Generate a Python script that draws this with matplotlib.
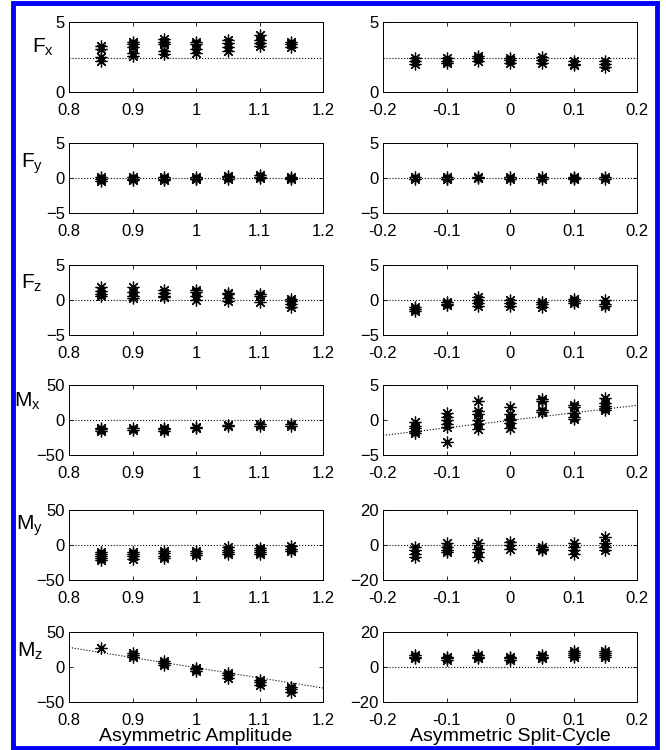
import matplotlib
matplotlib.use("Agg")
import matplotlib.pyplot as plt
from matplotlib.patches import Rectangle

plt.rcParams["font.family"] = ["Liberation Sans", "DejaVu Sans"]
plt.rcParams["mathtext.fontset"] = "custom"
plt.rcParams["mathtext.rm"] = "Liberation Sans"
plt.rcParams["mathtext.it"] = "Liberation Sans:italic"

# x positions of the two parameter sweeps
amp_x = [0.85, 0.9, 0.95, 1.0, 1.05, 1.1, 1.15]
split_x = [-0.15, -0.1, -0.05, 0.0, 0.05, 0.1, 0.15]

fx_amp = [[3.3, 3.1, 2.5, 2.2], [3.6, 3.4, 3.2, 2.8, 2.6], [3.8, 3.6, 3.4, 2.9, 2.7],
          [3.6, 3.4, 3.1, 2.8], [3.7, 3.5, 3.2, 2.9], [4.1, 3.7, 3.5, 3.3], [3.6, 3.4, 3.2]]
fx_split = [[2.4, 2.2, 2.0], [2.4, 2.2, 2.1], [2.6, 2.4, 2.2], [2.4, 2.3, 2.1],
            [2.5, 2.3, 2.1], [2.2, 2.0, 1.9], [2.2, 2.0, 1.8]]
fy_amp = [[0.1, -0.2, -0.4], [0.2, -0.1, -0.3], [0.1, -0.1, -0.3], [0.1, -0.1, -0.2],
          [0.3, 0.1, -0.1], [0.4, 0.2, 0.0], [0.1, 0.0, -0.1]]
fy_split = [[0.1, -0.1], [0.1, -0.1, -0.2], [0.2, 0.0], [0.1, -0.1],
            [0.1, -0.1], [0.1, 0.0, -0.1], [0.1, -0.1]]
fz_amp = [[1.8, 1.3, 0.8, 0.6], [1.8, 1.2, 0.6, 0.3], [1.5, 1.0, 0.6, 0.4],
          [1.4, 1.1, 0.6, 0.0], [1.0, 0.8, 0.3, -0.1], [0.9, 0.6, -0.3], [0.1, -0.2, -0.6, -1.0]]
fz_split = [[-1.0, -1.3, -1.6], [-0.3, -0.5, -0.7], [0.4, 0.0, -0.4, -0.9], [0.0, -0.4, -0.8],
            [-0.3, -0.6, -1.0], [0.2, -0.1, -0.4], [0.0, -0.5, -0.9]]
mx_amp = [[-11, -13, -15], [-12, -14], [-11, -13, -15], [-10, -12],
          [-7, -9], [-6, -8], [-6, -8]]
mx_split = [[-0.3, -0.8, -1.2, -1.6, -1.9], [1.0, 0.5, 0.0, -0.5, -1.0, -3.2],
            [2.7, 1.3, 0.8, 0.0, -0.5, -1.3], [1.8, 0.8, 0.2, 0.0, -0.4, -1.2],
            [3.0, 2.7, 1.5, 1.2], [2.2, 1.8, 1.0, 0.4, 0.1], [3.1, 2.5, 2.0, 1.7, 1.5]]
my_amp = [[-10, -13, -16, -19, -22], [-10, -13, -16, -20], [-9, -12, -15, -19],
          [-8, -11, -14], [-3, -7, -10, -13], [-4, -7, -10, -13], [-2, -5, -8]]
my_split = [[-1, -3, -5, -7], [1, -1, -3, -4], [1, -2, -4, -7], [2, 0, -2],
            [-1, -2, -3], [1, -1, -3, -5], [4.8, 1, -1, -3]]
mz_amp = [[27], [20, 17, 14], [9, 6, 3], [-1, -3, -5], [-9, -12, -15], [-18, -21, -25], [-28, -31, -35]]
mz_split = [[7, 6, 5], [6, 5, 4], [7, 6, 5], [6, 5, 4], [7, 6, 5], [9, 8, 7, 6], [9, 8, 7, 6]]

# reference lines: (value at left end, value at right end)
ref_amp = [(2.45, 2.45), (0, 0), (0, 0), (0, 0), (0, 0), (28, -30)]
ref_split = [(2.45, 2.45), (0, 0), (0, 0), (-2.2, 2.1), (0, 0), (0, 0)]

labels = [r"$\mathrm{F_x}$", r"$\mathrm{F_y}$", r"$\mathrm{F_z}$",
          r"$\mathrm{M_x}$", r"$\mathrm{M_y}$", r"$\mathrm{M_z}$"]
amp_ylim = [(0, 5), (-5, 5), (-5, 5), (-50, 50), (-50, 50), (-50, 50)]
split_ylim = [(0, 5), (-5, 5), (-5, 5), (-5, 5), (-20, 20), (-20, 20)]
amp_data = [fx_amp, fy_amp, fz_amp, mx_amp, my_amp, mz_amp]
split_data = [fx_split, fy_split, fz_split, mx_split, my_split, mz_split]

W, H = 666, 750
fig = plt.figure(figsize=(W / 100, H / 100), dpi=100)

row_tops = [22, 143, 265, 385, 510, 632]
row_h = 70
col_left = [69, 383]
col_w = 254
# where the row labels sit (right edge in pixels, height as axes fraction)
label_right = [54, 43, 43, 41, 43, 43]
label_y = [0.64, 0.7, 0.74, 0.76, 0.78, 0.72]


def draw(ax, xs, clusters, ref, xlim, ylim):
    for x, ys in zip(xs, clusters):
        ax.plot([x] * len(ys), ys, ls="none", marker=(8, 2, 0), ms=8.5, mew=0.9,
                color="black")
    ax.plot(xlim, ref, ls=":", color="black", lw=0.8)
    ax.set_xlim(xlim)
    ax.set_ylim(ylim)
    lo, hi = ylim
    ax.set_yticks(sorted(set([lo, 0, hi])))
    ax.tick_params(direction="in", top=True, right=True, length=3, width=0.6,
                   labelsize=12)
    ax.tick_params(axis="x", pad=8)
    ax.tick_params(axis="y", pad=3)
    for s in ax.spines.values():
        s.set_linewidth(0.7)


for i in range(6):
    b = 1 - (row_tops[i] + row_h) / H
    axl = fig.add_axes([col_left[0] / W, b, col_w / W, row_h / H])
    axr = fig.add_axes([col_left[1] / W, b, col_w / W, row_h / H])
    draw(axl, amp_x, amp_data[i], ref_amp[i], (0.8, 1.2), amp_ylim[i])
    draw(axr, split_x, split_data[i], ref_split[i], (-0.2, 0.2), split_ylim[i])
    axl.set_xticks([0.8, 0.9, 1.0, 1.1, 1.2])
    axl.set_xticklabels(["0.8", "0.9", "1", "1.1", "1.2"])
    axr.set_xticks([-0.2, -0.1, 0.0, 0.1, 0.2])
    axr.set_xticklabels(["-0.2", "-0.1", "0", "0.1", "0.2"])
    axl.set_ylabel(labels[i], rotation=0, ha="right", va="center", fontsize=15)
    axl.yaxis.set_label_coords((label_right[i] - col_left[0]) / col_w, label_y[i])
    if i == 5:
        axl.set_xlabel("Asymmetric Amplitude", fontsize=14, labelpad=0)
        axr.set_xlabel("Asymmetric Split-Cycle", fontsize=14, labelpad=0)

fig.patches.append(Rectangle((13 / W, 2.5 / H), (657 - 13) / W, (747.5 - 2.5) / H,
                             transform=fig.transFigure, fill=False,
                             ec="#0000ff", lw=3.5))

fig.savefig("out.png", dpi=100)
